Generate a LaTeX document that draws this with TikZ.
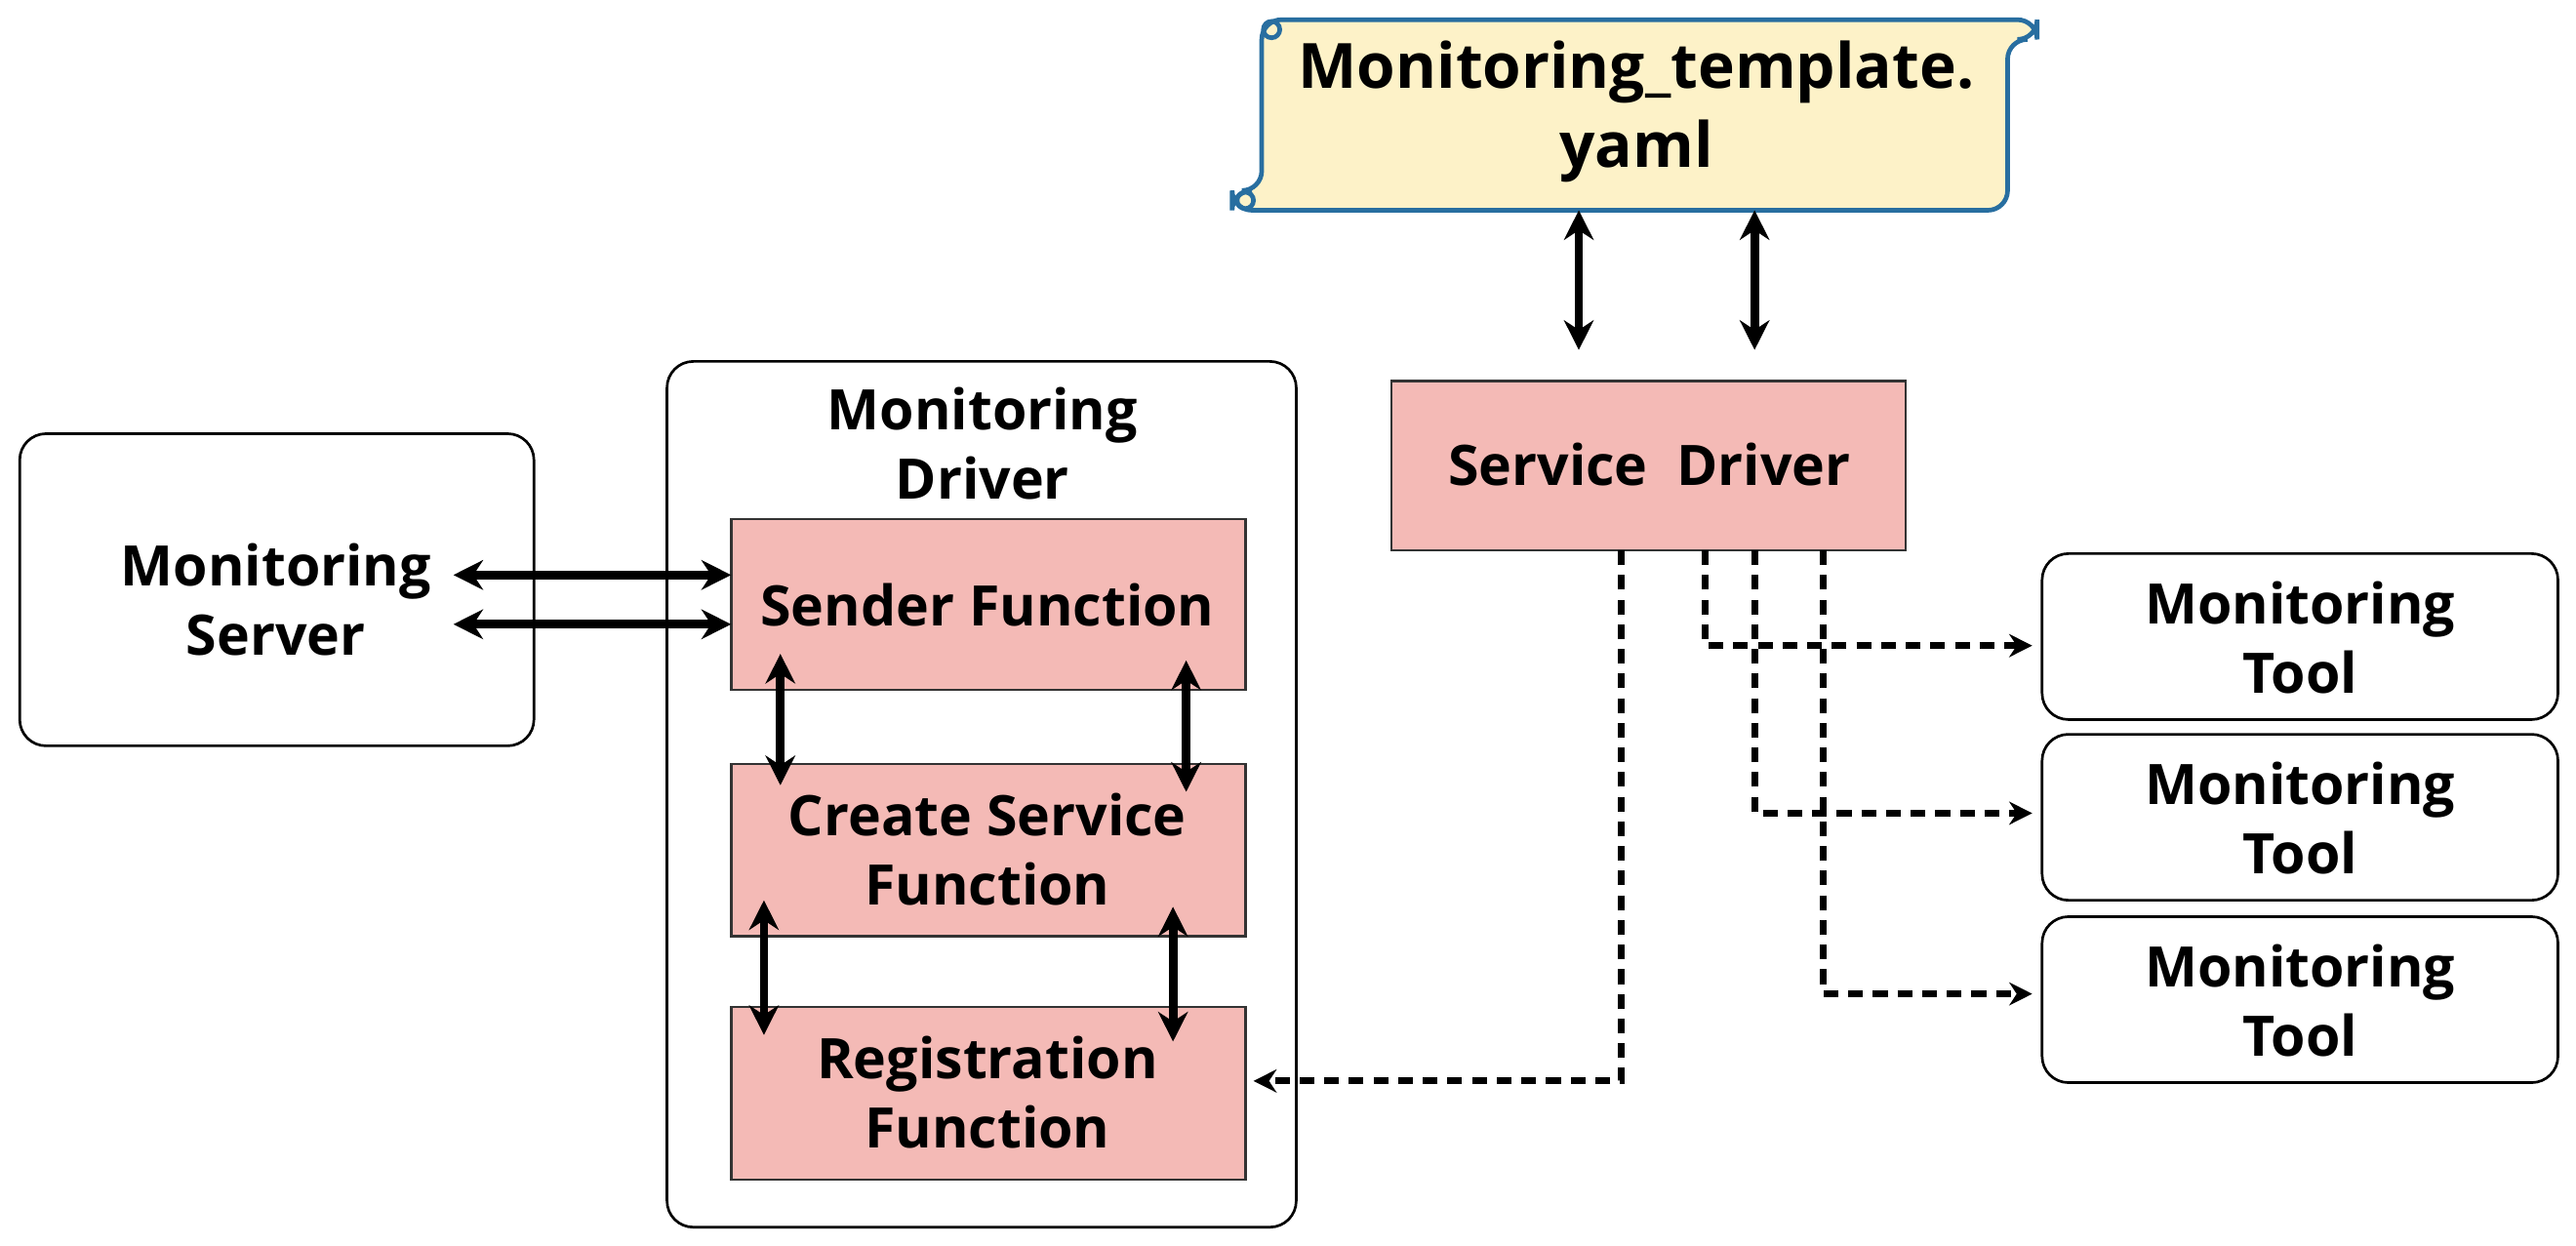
\documentclass[tikz,border=0pt]{standalone}
\usepackage{fontspec}
\setmainfont{Open Sans}
\usetikzlibrary{arrows.meta}
\begin{document}
\begin{tikzpicture}[x=0.5pt,y=-0.5pt,
 lbl/.style={font=\bfseries\fontsize{17}{21}\selectfont,align=center},
 pinkbox/.style={draw=black!80,fill={rgb,255:red,244;green,186;blue,182},line width=0.8pt},
 wbox/.style={draw=black,rounded corners=8pt,line width=0.8pt},
 dbl/.style={{Stealth[length=9pt,width=9pt]}-{Stealth[length=9pt,width=9pt]},line width=2.6pt},
 dsh/.style={-{Stealth[length=7pt,width=7pt]},line width=2.1pt,dash pattern=on 4.5pt off 3pt}]
\useasboundingbox (0,0) rectangle (1568,758);
% scroll
\draw[draw={rgb,255:red,40;green,110;blue,160},fill={rgb,255:red,253;green,242;blue,200},line width=1.4pt,rounded corners=6pt]
 (768,12) -- (1240,12) -- (1240,24) -- (1222,24) -- (1222,128) -- (750,128) -- (750,116) -- (768,116) -- cycle;
\draw[draw={rgb,255:red,40;green,110;blue,160},line width=1.4pt] (774,18) circle (5) (758,122) circle (5);
\node[lbl,font=\bfseries\fontsize{19}{24}\selectfont] (yaml) at (996,68) {Monitoring\_template.\\yaml};
\coordinate (y1) at (961,128); \coordinate (y2) at (1068,128);
% boxes
\draw[wbox] (12,264) rectangle (325,454);
\node[lbl] (ms) at (168,365) {Monitoring\\Server};
\draw[wbox] (406,220) rectangle (789,747);
\node[lbl] (md) at (598,270) {Monitoring\\Driver};
\draw[pinkbox] (445,316) rectangle (758,420);
\node[lbl] (sf) at (601,368) {Sender Function};
\draw[pinkbox] (445,465) rectangle (758,570);
\node[lbl] (cs) at (601,517) {Create Service\\Function};
\draw[pinkbox] (445,613) rectangle (758,718);
\node[lbl] (rf) at (601,665) {Registration\\Function};
\draw[pinkbox] (847,232) rectangle (1160,335);
\node[lbl] (sd) at (1004,283) {Service\ \ Driver};
\foreach \n/\y in {t1/388,t2/498,t3/609}{
 \draw[wbox] (1243,\y-51) rectangle (1557,\y+50);
 \node[lbl] (\n) at (1400,\y) {Monitoring\\Tool};}
% solid arrows
\coordinate (a1) at (276,350); \coordinate (b1) at (445,350);
\coordinate (a2) at (276,380); \coordinate (b2) at (445,380);
\draw[dbl] (a1) -- (b1); \draw[dbl] (a2) -- (b2);
\coordinate (c1) at (475,398); \coordinate (d1) at (475,478);
\coordinate (c2) at (722,402); \coordinate (d2) at (722,482);
\coordinate (e1) at (465,548); \coordinate (f1) at (465,630);
\coordinate (e2) at (714,552); \coordinate (f2) at (714,634);
\draw[dbl] (c1) -- (d1); \draw[dbl] (c2) -- (d2);
\draw[dbl] (e1) -- (f1); \draw[dbl] (e2) -- (f2);
\coordinate (s1) at (961,213); \coordinate (s2) at (1068,213);
\draw[dbl] (y1) -- (s1); \draw[dbl] (y2) -- (s2);
% dashed
\coordinate (p0) at (987,335); \coordinate (r0) at (763,658);
\draw[dsh] (p0) |- (r0);
\coordinate (p1) at (1038,335); \coordinate (q1) at (1237,393);
\coordinate (p2) at (1068,335); \coordinate (q2) at (1237,495);
\coordinate (p3) at (1110,335); \coordinate (q3) at (1237,605);
\draw[dsh] (p1) |- (q1); \draw[dsh] (p2) |- (q2); \draw[dsh] (p3) |- (q3);
\end{tikzpicture}
\end{document}
